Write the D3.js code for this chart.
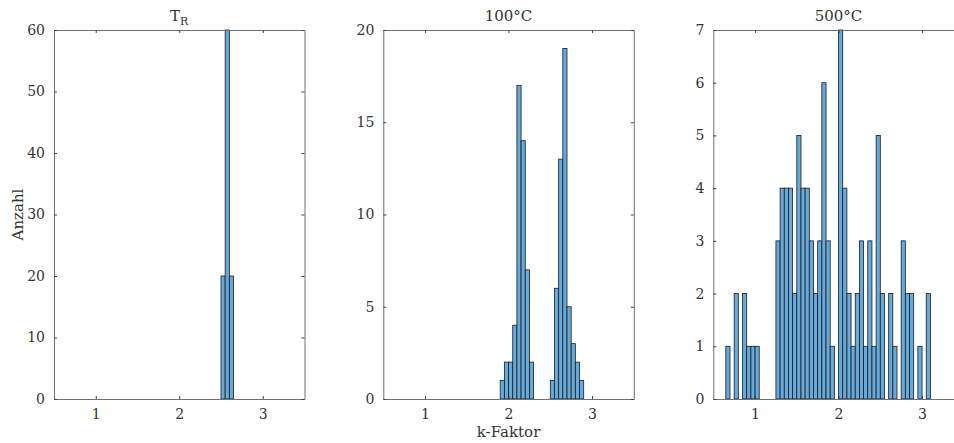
<!DOCTYPE html>
<html>
<head>
<meta charset="utf-8">
<script src="https://cdn.jsdelivr.net/npm/d3@7"></script>
<style>
  body { margin: 0; background: #fff; }
  svg text { font-family: "DejaVu Serif", "Liberation Serif", "Times New Roman", serif; fill: #333; }
</style>
</head>
<body>
<div class="chart"></div>
<script>
// histogram bin width (k-Faktor)
const binWidth = 0.05;

// T_R
const trStart = 2.5;
const trCounts = [20, 60, 20];

// 100°C
const c100Start = 1.9;
const c100Counts = [1, 2, 2, 4, 17, 14, 7, 2, 0, 0, 0, 0, 1, 6, 13, 19, 5, 3, 2, 1];

// 500°C
const c500Start = 0.65;
const c500Counts = [1, 0, 2, 0, 2, 1, 1, 1, 0, 0, 0, 0,
  3, 4, 4, 4, 2, 5, 4, 4, 3, 2, 3, 6, 3, 1, 0,
  7, 4, 2, 1, 2, 3, 1, 3, 1, 5, 2, 0, 2, 1, 0, 3, 2, 2, 0, 1, 0, 2];

const xTicks = [1, 2, 3];
const panels = [
  { title: 'T', sub: 'R', start: trStart, counts: trCounts, yMax: 60, yTicks: [0, 10, 20, 30, 40, 50, 60] },
  { title: '100°C', start: c100Start, counts: c100Counts, yMax: 20, yTicks: [0, 5, 10, 15, 20] },
  { title: '500°C', start: c500Start, counts: c500Counts, yMax: 7, yTicks: [0, 1, 2, 3, 4, 5, 6, 7] }
];

const width = 954, height = 443;
const plotTop = 30, plotBottom = 399, boxW = 250.5;
const lefts = [54, 383.3, 713.3];
const tickLen = 3;
const fmt = d3.format('d');

const svg = d3.select('.chart')
  .append('svg')
  .attr('width', width)
  .attr('height', height);

panels.forEach((p, i) => {
  const left = lefts[i];
  const x = d3.scaleLinear([0.5, 3.5], [left, left + boxW]);
  const y = d3.scaleLinear([0, p.yMax], [plotBottom, plotTop]);

  const bins = p.counts.map((c, j) => ({
    x0: p.start + j * binWidth,
    x1: p.start + (j + 1) * binWidth,
    count: c
  })).filter(d => d.count > 0);

  const g = svg.append('g');

  // bars
  g.selectAll('.bar')
    .data(bins)
    .join('rect')
    .attr('class', 'bar')
    .attr('x', d => x(d.x0))
    .attr('y', d => y(d.count))
    .attr('width', d => x(d.x1) - x(d.x0))
    .attr('height', d => y(0) - y(d.count))
    .attr('fill', 'rgb(102,170,215)')
    .attr('stroke', '#1a1a2a')
    .attr('stroke-width', 0.8);

  // axes (ticks inside, mirrored)
  const xb = g.append('g').attr('transform', `translate(0,${plotBottom})`)
    .call(d3.axisBottom(x).tickValues(xTicks).tickFormat(fmt).tickSizeInner(-tickLen).tickSizeOuter(0).tickPadding(10));
  const xt = g.append('g').attr('transform', `translate(0,${plotTop})`)
    .call(d3.axisTop(x).tickValues(xTicks).tickSizeInner(-tickLen).tickSizeOuter(0).tickFormat(''));
  const yl = g.append('g').attr('transform', `translate(${left},0)`)
    .call(d3.axisLeft(y).tickValues(p.yTicks).tickFormat(fmt).tickSizeInner(-tickLen).tickSizeOuter(0).tickPadding(9));
  const yr = g.append('g').attr('transform', `translate(${left + boxW},0)`)
    .call(d3.axisRight(y).tickValues(p.yTicks).tickSizeInner(-tickLen).tickSizeOuter(0).tickFormat(''));

  [xb, xt, yl, yr].forEach(a => {
    a.attr('font-family', null);
    a.select('.domain').attr('stroke', '#707070').attr('stroke-width', 1);
    a.selectAll('.tick line').attr('stroke', '#404040');
    a.selectAll('.tick text')
      .style('font-size', '14px')
      .attr('fill', '#333');
  });

  // title
  const t = svg.append('text')
    .attr('x', left + boxW / 2)
    .attr('y', 21)
    .attr('text-anchor', 'middle')
    .style('font-size', '15px')
    .text(p.title);
  if (p.sub) {
    t.append('tspan')
      .attr('dy', 4)
      .style('font-size', '11px')
      .text(p.sub);
  }
});

// axis labels
svg.append('text')
  .attr('transform', `translate(23,${(plotTop + plotBottom) / 2}) rotate(-90)`)
  .attr('text-anchor', 'middle')
  .style('font-size', '15px')
  .text('Anzahl');

svg.append('text')
  .attr('x', lefts[1] + boxW / 2)
  .attr('y', 437)
  .attr('text-anchor', 'middle')
  .style('font-size', '15px')
  .text('k-Faktor');
</script>
</body>
</html>
